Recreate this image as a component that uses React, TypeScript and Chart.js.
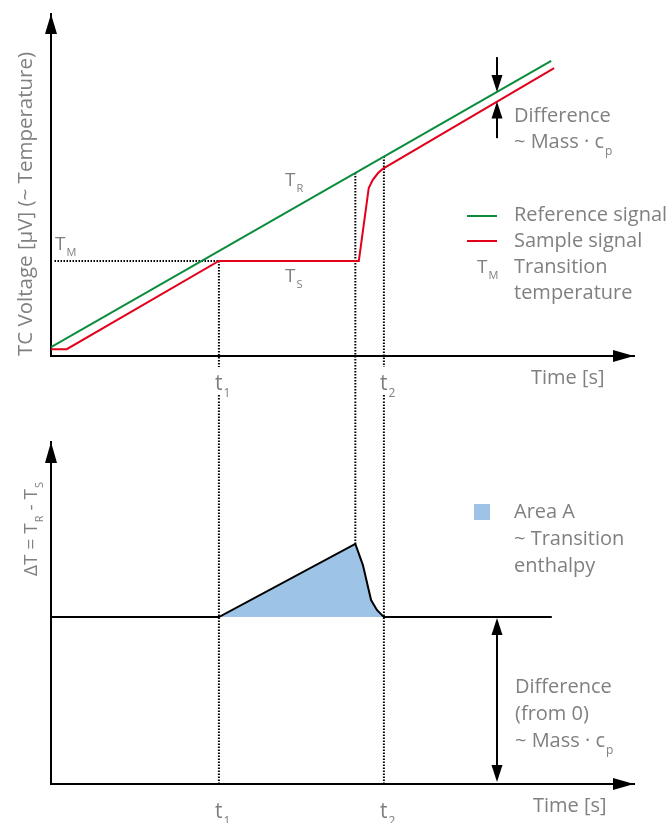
import React, { useEffect, useRef } from 'react';
import { Chart, registerables } from 'chart.js';

Chart.register(...registerables);

// ---------- data (schematic units: time 0..100, signal 0..100) ----------
const T1 = 28.8; // transition start t1
const T2 = 57.1; // transition end t2
const TP = 52.2; // peak time
const TM = 27.8; // transition temperature level

const refTime = [0, 85.8];
const refSignal = [2.6, 86.3];

const sampleTime = [0, 2.7, 28.8, 52.8, 54.5, 55.2, 56.1, 56.9, 86.3];
const sampleSignal = [2.0, 2.0, 27.8, 27.8, 49.1, 51.5, 53.5, 54.7, 84.2];

const refAtTP = 53.5; // reference signal value at peak time
const refAtT2 = 58.3; // reference signal value at t2

const dtTime = [0, 28.8, 52.2, 53.5, 54.9, 55.9, 57.1, 85.9];
const dtValues = [48.8, 48.8, 70.2, 64.0, 53.8, 50.9, 48.8, 48.8];
const DT_BASE = 48.8;

const ARROW_X = 76.5;
const topArrowDown = [87.4, 77.2]; // shaft start, tip (on reference line)
const topArrowUp = [63.7, 74.4]; // shaft start, tip (on sample line)

const xTickValues = [T1, T2];
const xTickSubs = ['1', '2'];

// ---------- styles ----------
const FONT = '"Open Sans", "Noto Sans", sans-serif';
const GRAY = '#808080';
const GREEN = '#0a8c3c';
const RED = '#e3001b';
const BLUE = '#9dc3e6';

type Seg = { t: string; sub?: boolean };

function rich(
  ctx: CanvasRenderingContext2D,
  segs: Seg[],
  x: number,
  y: number,
  size: number,
  align: 'left' | 'center' = 'left'
) {
  const subSize = Math.round(size * 0.58);
  const off = size * 0.33;
  const widths = segs.map((s) => {
    ctx.font = `${s.sub ? subSize : size}px ${FONT}`;
    return ctx.measureText(s.t).width + (s.sub ? 1 : 0);
  });
  const total = widths.reduce((a, b) => a + b, 0);
  let cx = align === 'center' ? x - total / 2 : x;
  ctx.textAlign = 'left';
  ctx.textBaseline = 'alphabetic';
  ctx.fillStyle = GRAY;
  segs.forEach((s, i) => {
    ctx.font = `${s.sub ? subSize : size}px ${FONT}`;
    ctx.fillText(s.t, cx + (s.sub ? 1 : 0), s.sub ? y + off : y);
    cx += widths[i];
  });
}

function head(
  ctx: CanvasRenderingContext2D,
  tipX: number,
  tipY: number,
  dir: 'up' | 'down' | 'right',
  len: number,
  half: number
) {
  ctx.beginPath();
  ctx.moveTo(tipX, tipY);
  if (dir === 'up') {
    ctx.lineTo(tipX - half, tipY + len);
    ctx.lineTo(tipX + half, tipY + len);
  } else if (dir === 'down') {
    ctx.lineTo(tipX - half, tipY - len);
    ctx.lineTo(tipX + half, tipY - len);
  } else {
    ctx.lineTo(tipX - len, tipY - half);
    ctx.lineTo(tipX - len, tipY + half);
  }
  ctx.closePath();
  ctx.fillStyle = '#000';
  ctx.fill();
}

function shaft(ctx: CanvasRenderingContext2D, x: number, y1: number, y2: number) {
  ctx.beginPath();
  ctx.moveTo(x, y1);
  ctx.lineTo(x, y2);
  ctx.strokeStyle = '#000';
  ctx.lineWidth = 2;
  ctx.stroke();
}

const pts = (xs: number[], ys: (number | null)[]) => xs.map((x, i) => ({ x, y: ys[i] }));

const dotted = (data: { x: number; y: number | null }[]) => ({
  data,
  borderColor: '#000',
  borderWidth: 2,
  borderDash: [1.5, 1.5],
  pointRadius: 0,
  clip: false as const,
  spanGaps: false,
  fill: false,
});

const axisScales = () => ({
  x: {
    type: 'linear' as const,
    min: 0,
    max: 100,
    ticks: { display: false },
    grid: { display: false, drawTicks: false },
    border: { display: true, color: '#000', width: 2 },
  },
  y: {
    type: 'linear' as const,
    min: 0,
    max: 100,
    ticks: { display: false },
    grid: { display: false, drawTicks: false },
    border: { display: true, color: '#000', width: 2 },
  },
});

function drawTimeTicks(chart: any, baseline: number) {
  const { ctx } = chart;
  const xs = chart.scales.x;
  xTickValues.forEach((v, i) => {
    const px = xs.getPixelForValue(v);
    rich(ctx, [{ t: 't' }, { t: xTickSubs[i], sub: true }], px - 4, baseline, 21);
  });
}

const topPlugin = {
  id: 'topDecor',
  afterDraw(chart: any) {
    const { ctx, chartArea: a } = chart;
    const xs = chart.scales.x;
    const ys = chart.scales.y;
    ctx.save();
    // axis arrowheads
    head(ctx, a.left, a.top, 'up', 20, 6);
    head(ctx, a.right, a.bottom, 'right', 21, 6);

    // difference arrows
    const ax = xs.getPixelForValue(ARROW_X);
    const dTip = ys.getPixelForValue(topArrowDown[1]);
    shaft(ctx, ax, ys.getPixelForValue(topArrowDown[0]), dTip - 10);
    head(ctx, ax, dTip, 'down', 17, 5.5);
    const uTip = ys.getPixelForValue(topArrowUp[1]);
    shaft(ctx, ax, ys.getPixelForValue(topArrowUp[0]), uTip + 10);
    head(ctx, ax, uTip, 'up', 17, 5.5);

    // axis title
    ctx.save();
    ctx.translate(32, 204);
    ctx.rotate(-Math.PI / 2);
    rich(ctx, [{ t: 'TC Voltage [µV] (~ Temperature)' }], 0, 0, 20.5, 'center');
    ctx.restore();

    // labels on plot
    rich(ctx, [{ t: 'T' }, { t: 'M', sub: true }], 55, 250, 19);
    rich(ctx, [{ t: 'T' }, { t: 'R', sub: true }], 285, 186, 19);
    rich(ctx, [{ t: 'T' }, { t: 'S', sub: true }], 285, 282, 19);

    drawTimeTicks(chart, 390);
    rich(ctx, [{ t: 'Time [s]' }], 531, 384, 20);

    rich(ctx, [{ t: 'Difference' }], 514, 122, 20);
    rich(ctx, [{ t: '~ Mass · c' }, { t: 'p', sub: true }], 514, 148, 20);

    // legend
    ctx.lineWidth = 2;
    ctx.strokeStyle = GREEN;
    ctx.beginPath();
    ctx.moveTo(467, 216);
    ctx.lineTo(497, 216);
    ctx.stroke();
    ctx.strokeStyle = RED;
    ctx.beginPath();
    ctx.moveTo(467, 241);
    ctx.lineTo(497, 241);
    ctx.stroke();
    rich(ctx, [{ t: 'Reference signal' }], 514, 221, 20);
    rich(ctx, [{ t: 'Sample signal' }], 514, 247, 20);
    rich(ctx, [{ t: 'T' }, { t: 'M', sub: true }], 477, 273, 19);
    rich(ctx, [{ t: 'Transition' }], 514, 273, 20);
    rich(ctx, [{ t: 'temperature' }], 514, 299, 20);
    ctx.restore();
  },
};

const bottomPlugin = {
  id: 'bottomDecor',
  afterDraw(chart: any) {
    const { ctx, chartArea: a } = chart;
    const xs = chart.scales.x;
    const ys = chart.scales.y;
    ctx.save();
    head(ctx, a.left, a.top, 'up', 21, 6);
    head(ctx, a.right, a.bottom, 'right', 21, 6);

    // double arrow: difference from 0
    const ax = xs.getPixelForValue(ARROW_X);
    const yTop = ys.getPixelForValue(DT_BASE) + 1;
    const yBot = ys.getPixelForValue(0) - 2;
    shaft(ctx, ax, yTop + 10, yBot - 10);
    head(ctx, ax, yTop, 'up', 17, 5.5);
    head(ctx, ax, yBot, 'down', 17, 5.5);

    ctx.save();
    ctx.translate(37, 129);
    ctx.rotate(-Math.PI / 2);
    rich(
      ctx,
      [{ t: 'ΔT = T' }, { t: 'R', sub: true }, { t: ' - T' }, { t: 'S', sub: true }],
      0,
      0,
      19,
      'center'
    );
    ctx.restore();

    // legend square
    ctx.fillStyle = BLUE;
    ctx.fillRect(474, 104, 16, 16);
    rich(ctx, [{ t: 'Area A' }], 514, 118, 20);
    rich(ctx, [{ t: '~ Transition' }], 514, 145, 20);
    rich(ctx, [{ t: 'enthalpy' }], 514, 172, 20);

    rich(ctx, [{ t: 'Difference' }], 515, 293, 20);
    rich(ctx, [{ t: '(from 0)' }], 515, 320, 20);
    rich(ctx, [{ t: '~ Mass · c' }, { t: 'p', sub: true }], 515, 347, 20);

    drawTimeTicks(chart, 418);
    rich(ctx, [{ t: 'Time [s]' }], 533, 412, 20);
    ctx.restore();
  },
};

export default function App() {
  const topRef = useRef<HTMLCanvasElement>(null);
  const botRef = useRef<HTMLCanvasElement>(null);

  useEffect(() => {
    const top = new Chart(topRef.current!, {
      type: 'line',
      data: {
        datasets: [
          {
            label: 'Reference signal',
            data: pts(refTime, refSignal),
            borderColor: GREEN,
            borderWidth: 2,
            pointRadius: 0,
            fill: false,
          },
          {
            label: 'Sample signal',
            data: pts(sampleTime, sampleSignal),
            borderColor: RED,
            borderWidth: 2,
            pointRadius: 0,
            fill: false,
          },
          dotted(pts([0.6, T1], [TM, TM])),
          dotted(pts([T1, T1, T1, T1, T1], [TM, -3.2, null, -11.4, -20])),
          dotted(pts([TP, TP], [refAtTP, -20])),
          dotted(pts([T2, T2, T2, T2, T2], [refAtT2, -3.2, null, -11.4, -20])),
        ] as any,
      },
      options: {
        animation: false,
        responsive: false,
        devicePixelRatio: 1,
        layout: { padding: { left: 51, right: 34, top: 14, bottom: 44 } },
        plugins: { legend: { display: false }, tooltip: { enabled: false } },
        scales: axisScales(),
      },
      plugins: [topPlugin],
    });

    const bottom = new Chart(botRef.current!, {
      type: 'line',
      data: {
        datasets: [
          {
            label: 'ΔT',
            data: pts(dtTime, dtValues),
            borderColor: '#000',
            borderWidth: 2,
            pointRadius: 0,
            backgroundColor: BLUE,
            fill: { value: DT_BASE },
          },
          dotted(pts([T1, T1], [0, 150])),
          dotted(pts([TP, TP], [dtValues[2], 150])),
          dotted(pts([T2, T2], [0, 150])),
        ] as any,
      },
      options: {
        animation: false,
        responsive: false,
        devicePixelRatio: 1,
        layout: { padding: { left: 51, right: 34, top: 42, bottom: 39 } },
        plugins: { legend: { display: false }, tooltip: { enabled: false } },
        scales: axisScales(),
      },
      plugins: [bottomPlugin],
    });

    return () => {
      top.destroy();
      bottom.destroy();
    };
  }, []);

  return (
    <div style={{ position: 'absolute', left: 0, top: 0, width: 668, height: 823, background: '#fff' }}>
      <canvas ref={topRef} width={668} height={400} style={{ display: 'block' }} />
      <canvas ref={botRef} width={668} height={423} style={{ display: 'block' }} />
    </div>
  );
}
